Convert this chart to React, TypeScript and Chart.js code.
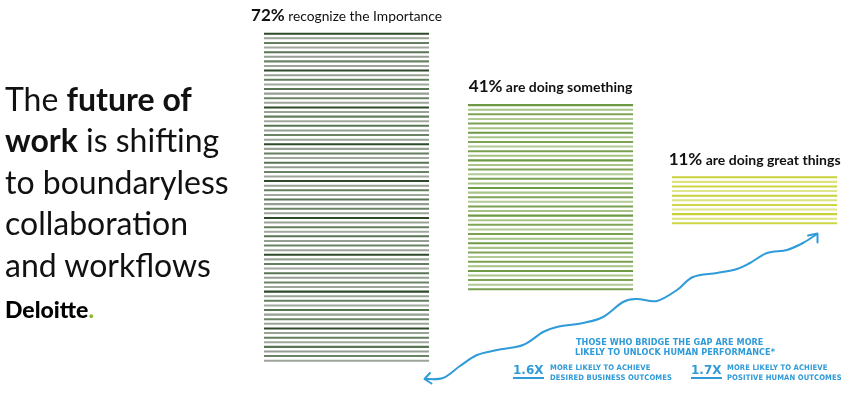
import React, { useEffect, useRef } from 'react';
import { Chart, registerables } from 'chart.js';

Chart.register(...registerables);

// ---------- data ----------
const categories = ['Recognize the importance', 'Doing something', 'Doing great things'];
const percentValues = [72, 41, 11];          // one horizontal line per percent
const barStart = [7.17, 22.67, 37.0];          // floating start of each stack (y units)
const pctLabels = ['72%', '41%', '11%'];
const descLabels = ['recognize the Importance', 'are doing something', 'are doing great things'];

// ---------- styles ----------
const descWeights = ['normal', 'bold', 'bold'];
const lineColors = [
  ['#2e4a2b', '#97a295', '#647f5f', '#a0a89e', '#587653', '#949e92', '#6a8465', '#9da59b'],
  ['#6f9a45', '#a9c488', '#7ea456', '#b1ca93', '#7aa150', '#a5c183'],
  ['#c9d13a', '#dde27e', '#cfd646', '#e0e48a'],
];
const LINE_THICKNESS = 0.44;

const maxLines = Math.max(...percentValues);
const datasets = Array.from({ length: maxLines }, (_, i) => ({
  label: 'line ' + (i + 1),
  data: percentValues.map((n, c) =>
    i < n ? [barStart[c] + i + 0.5 - LINE_THICKNESS / 2, barStart[c] + i + 0.5 + LINE_THICKNESS / 2] : null
  ),
  backgroundColor: percentValues.map((n, c) => {
    const cyc = lineColors[c];
    return cyc[((n - 1 - i) % cyc.length + cyc.length) % cyc.length];
  }),
  borderWidth: 0,
  grouped: false,
  categoryPercentage: 1,
  barPercentage: 0.809,
}));

const labelPlugin = {
  id: 'barLabels',
  afterDatasetsDraw(chart: any) {
    const ctx = chart.ctx;
    const xs = chart.scales.x;
    const ys = chart.scales.y;
    percentValues.forEach((n, c) => {
      const x = xs.getPixelForValue(c);
      const topLine = ys.getPixelForValue(barStart[c] + n - 0.5);
      const y = topLine - 12.7;
      ctx.save();
      ctx.fillStyle = '#111111';
      ctx.textBaseline = 'alphabetic';
      ctx.textAlign = 'left';
      const f1 = 'bold 17px Lato';
      const f2 = `${descWeights[c]} ${c === 0 ? 13.8 : 14}px Lato`;
      ctx.font = f1;
      const w1 = ctx.measureText(pctLabels[c]).width;
      ctx.font = f2;
      const rest = ' ' + descLabels[c];
      const w2 = ctx.measureText(rest).width;
      const sx = x - (w1 + w2) / 2;
      ctx.font = f1;
      ctx.fillText(pctLabels[c], sx, y);
      ctx.font = f2;
      ctx.fillText(rest, sx + w1, y);
      ctx.restore();
    });
  },
};

// decorative hand-drawn arrow
const arrowPts: [number, number][] = [
  [425, 379], [443, 378], [460, 366], [477, 355], [497, 350], [523, 345], [543, 332],
  [557, 327], [583, 323], [603, 317], [623, 302], [637, 299], [657, 301], [677, 290],
  [693, 277], [717, 273], [737, 269], [750, 263], [767, 253], [787, 250], [803, 243], [817, 234],
];
function smoothPath(p: [number, number][]) {
  let d = `M${p[0][0]},${p[0][1]}`;
  for (let i = 0; i < p.length - 1; i++) {
    const p0 = p[i - 1] || p[i];
    const p1 = p[i];
    const p2 = p[i + 1];
    const p3 = p[i + 2] || p2;
    const c1x = p1[0] + (p2[0] - p0[0]) / 6;
    const c1y = p1[1] + (p2[1] - p0[1]) / 6;
    const c2x = p2[0] - (p3[0] - p1[0]) / 6;
    const c2y = p2[1] - (p3[1] - p1[1]) / 6;
    d += ` C${c1x},${c1y} ${c2x},${c2y} ${p2[0]},${p2[1]}`;
  }
  return d;
}

const BLUE = '#2f9bd8';

export default function App() {
  const ref = useRef<HTMLCanvasElement | null>(null);
  useEffect(() => {
    if (!ref.current) return;
    const chart = new Chart(ref.current, {
      type: 'bar',
      data: { labels: categories, datasets: datasets as any },
      options: {
        animation: false,
        responsive: false,
        maintainAspectRatio: false,
        layout: { padding: { left: 244.5, right: 7.4, top: 0, bottom: 0 } },
        plugins: { legend: { display: false }, tooltip: { enabled: false } },
        scales: {
          x: { display: false },
          y: { display: false, min: 0, max: 86 },
        },
      },
      plugins: [labelPlugin],
    });
    return () => chart.destroy();
  }, []);

  const small: React.CSSProperties = {
    position: 'absolute', fontFamily: 'DejaVu Sans Condensed', fontWeight: 'bold', fontSize: 7.6,
    lineHeight: '10px', letterSpacing: '0.1px', color: BLUE, whiteSpace: 'nowrap',
  };
  const main: React.CSSProperties = {
    position: 'absolute', fontFamily: 'DejaVu Sans Condensed', fontWeight: 'bold', fontSize: 9,
    lineHeight: '10px', letterSpacing: '0.05px', color: BLUE, whiteSpace: 'nowrap',
  };
  const big: React.CSSProperties = {
    position: 'absolute', fontFamily: 'DejaVu Sans', fontWeight: 'bold', fontSize: 12,
    lineHeight: '12px', color: BLUE, whiteSpace: 'nowrap',
    borderBottom: `2px solid ${BLUE}`, paddingBottom: 1,
  };

  return (
    <div style={{ position: 'fixed', left: 0, top: 0, width: 864, height: 396, background: '#fff', overflow: 'hidden' }}>
      <canvas ref={ref} width={864} height={396} style={{ position: 'absolute', left: 0, top: 0, width: 864, height: 396 }} />
      <div
        style={{
          position: 'absolute', left: 5, top: 77.5, fontFamily: 'Lato', fontSize: 32,
          lineHeight: '41.6px', color: '#111', whiteSpace: 'nowrap',
        }}
      >
        The <b>future of</b>
        <br />
        <b>work</b> is shifting
        <br />
        to boundaryless
        <br />
        collaboration
        <br />
        and workflows
      </div>
      <div
        style={{
          position: 'absolute', left: 5, top: 297.5, fontFamily: 'Lato', fontWeight: 900,
          fontSize: 23, lineHeight: '23px', color: '#000', whiteSpace: 'nowrap',
        }}
      >
        Deloitte<span style={{ color: '#86BC25' }}>.</span>
      </div>

      <svg width={864} height={396} style={{ position: 'absolute', left: 0, top: 0 }}>
        <path d={smoothPath(arrowPts)} fill="none" stroke={BLUE} strokeWidth={2} strokeLinecap="round" />
        <path d="M430,373 L424.5,379 L431.5,383.5" fill="none" stroke={BLUE} strokeWidth={2} strokeLinecap="round" strokeLinejoin="round" />
        <path d="M808,235.5 L817.5,233.5 L817.5,242.5" fill="none" stroke={BLUE} strokeWidth={2} strokeLinecap="round" strokeLinejoin="round" />
      </svg>

      <div style={{ ...main, left: 576, top: 336.7 }}>THOSE WHO BRIDGE THE GAP ARE MORE</div>
      <div style={{ ...main, left: 575, top: 346.7 }}>LIKELY TO UNLOCK HUMAN PERFORMANCE*</div>

      <div style={{ ...big, left: 513, top: 364 }}>1.6X</div>
      <div style={{ ...small, left: 550, top: 362.7 }}>MORE LIKELY TO ACHIEVE</div>
      <div style={{ ...small, left: 550, top: 372.7 }}>DESIRED BUSINESS OUTCOMES</div>

      <div style={{ ...big, left: 691, top: 364 }}>1.7X</div>
      <div style={{ ...small, left: 727, top: 362.7 }}>MORE LIKELY TO ACHIEVE</div>
      <div style={{ ...small, left: 727, top: 372.7 }}>POSITIVE HUMAN OUTCOMES</div>
    </div>
  );
}
